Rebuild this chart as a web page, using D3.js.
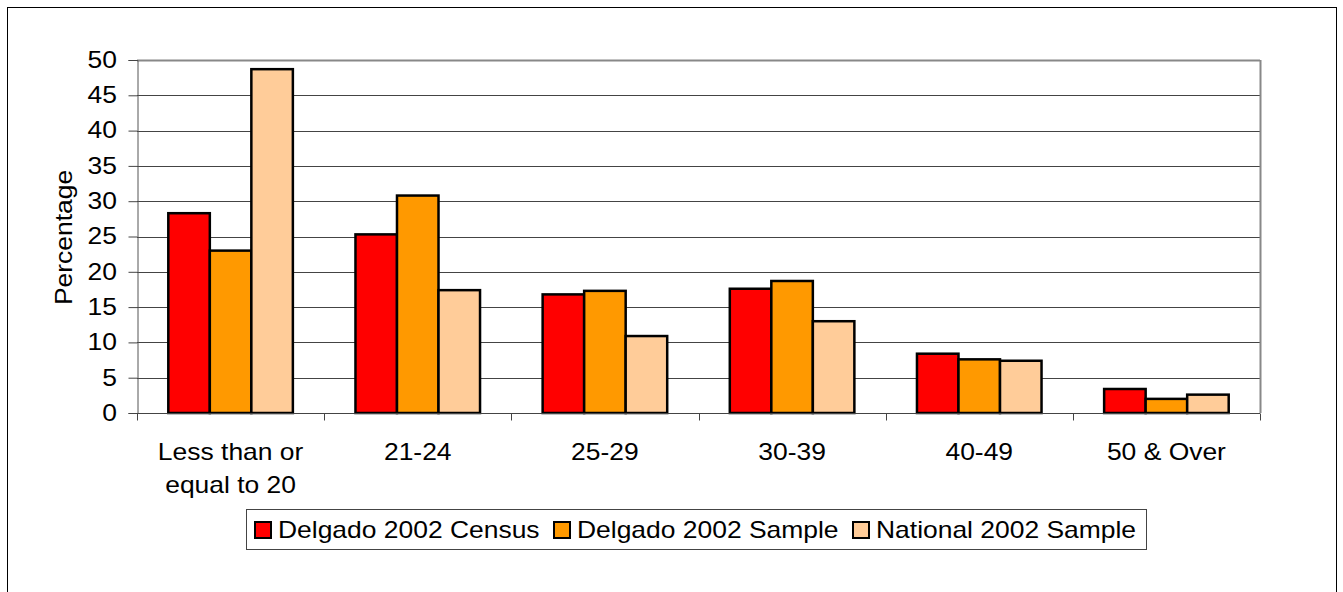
<!DOCTYPE html>
<html><head><meta charset="utf-8">
<script src="https://cdn.jsdelivr.net/npm/d3@7"></script>
<style>body{margin:0;background:#fff}svg{display:block}text{font-family:"Liberation Sans",Arial,sans-serif;fill:#000}</style>
</head><body><svg id="c" width="1343" height="592"></svg>
<script>
const categories = ["Less than or|equal to 20","21-24","25-29","30-39","40-49","50 & Over"];
const seriesNames = ["Delgado 2002 Census","Delgado 2002 Sample","National 2002 Sample"];
const census = [28.3,25.3,16.8,17.6,8.4,3.4];
const sample = [23.0,30.8,17.3,18.7,7.6,2.0];
const national = [48.7,17.4,10.9,13.0,7.4,2.6];
const yTicks = [0,5,10,15,20,25,30,35,40,45,50];
const colors = ["#ff0000","#ff9900","#ffcc99"];

const FS = 23, SX = 1.15;
const svg = d3.select("#c");
svg.append("rect").attr("x",7.5).attr("y",7.5).attr("width",1329).attr("height",600).attr("fill","#fff").attr("stroke","#000");

const L=137,R=1260,T=60,B=413;
const x = d3.scaleBand().domain(categories).range([L,R]).paddingInner(0).paddingOuter(0);
const y = d3.scaleLinear().domain([0,50]).range([B,T]);
const inner = d3.scaleBand().domain([0,1,2]).range([31.3,x.bandwidth()-31.3]).padding(0);

function stretchText(sel, tx, ty, anchor, str){
  return sel.append("text").attr("transform",`translate(${tx},${ty}) scale(${SX},1)`)
    .attr("text-anchor",anchor).style("font-size",FS+"px").text(str);
}

// gridlines
svg.append("g").selectAll("line").data(yTicks.filter(d=>d>0)).join("line")
 .attr("x1",L).attr("x2",R).attr("y1",d=>Math.round(y(d))+0.5).attr("y2",d=>Math.round(y(d))+0.5)
 .attr("stroke",d=>d===50?"#888":"#444").attr("stroke-width",d=>d===50?2:1);
svg.append("line").attr("x1",R+0.5).attr("x2",R+0.5).attr("y1",T).attr("y2",B).attr("stroke","#888").attr("stroke-width",2);

const data = [census,sample,national];
const g = svg.append("g");
categories.forEach((c,i)=>{
  data.forEach((s,j)=>{
    g.append("rect").attr("x",x(c)+inner(j)).attr("y",y(s[i]))
     .attr("width",inner.bandwidth()).attr("height",B-y(s[i]))
     .attr("fill",colors[j]).attr("stroke","#000").attr("stroke-width",2.5);
  });
});

// y axis
const ya = svg.append("g").attr("transform",`translate(${L+0.5},0)`)
 .call(d3.axisLeft(y).tickValues(yTicks).tickSize(9).tickPadding(11));
ya.select(".domain").attr("stroke","#555");
ya.selectAll(".tick line").attr("stroke","#444");
ya.selectAll(".tick text").attr("x",null).attr("transform",`translate(-20.5,0) scale(${SX},1)`)
  .style("font-size",FS+"px").attr("font-family",null);

// x axis
const xa = svg.append("g").attr("transform",`translate(0,${B+0.5})`);
xa.append("line").attr("x1",L).attr("x2",R).attr("stroke","#444");
xa.selectAll("line.t").data(d3.range(categories.length+1)).join("line").attr("class","t")
 .attr("x1",i=>Math.round(L+i*x.step())+0.5).attr("x2",i=>Math.round(L+i*x.step())+0.5).attr("y1",0).attr("y2",7).attr("stroke","#444");
categories.forEach(c=>{
  c.split("|").forEach((l,k)=>stretchText(xa, x(c)+x.bandwidth()/2, 46.5+k*33, "middle", l));
});

// y label
svg.append("text").attr("transform",`translate(72,237.5) rotate(-90) scale(${SX},1)`).attr("text-anchor","middle").style("font-size",FS+"px").text("Percentage");

// legend
const lg = svg.append("g");
lg.append("rect").attr("x",246.5).attr("y",509.5).attr("width",900).attr("height",40).attr("fill","#fff").attr("stroke","#444");
const itemX=[255,554,853];
seriesNames.forEach((n,j)=>{
  lg.append("rect").attr("x",itemX[j]).attr("y",522).attr("width",16).attr("height",16).attr("fill",colors[j]).attr("stroke","#000").attr("stroke-width",2);
  stretchText(lg, itemX[j]+23, 538, "start", n);
});
</script></body></html>
